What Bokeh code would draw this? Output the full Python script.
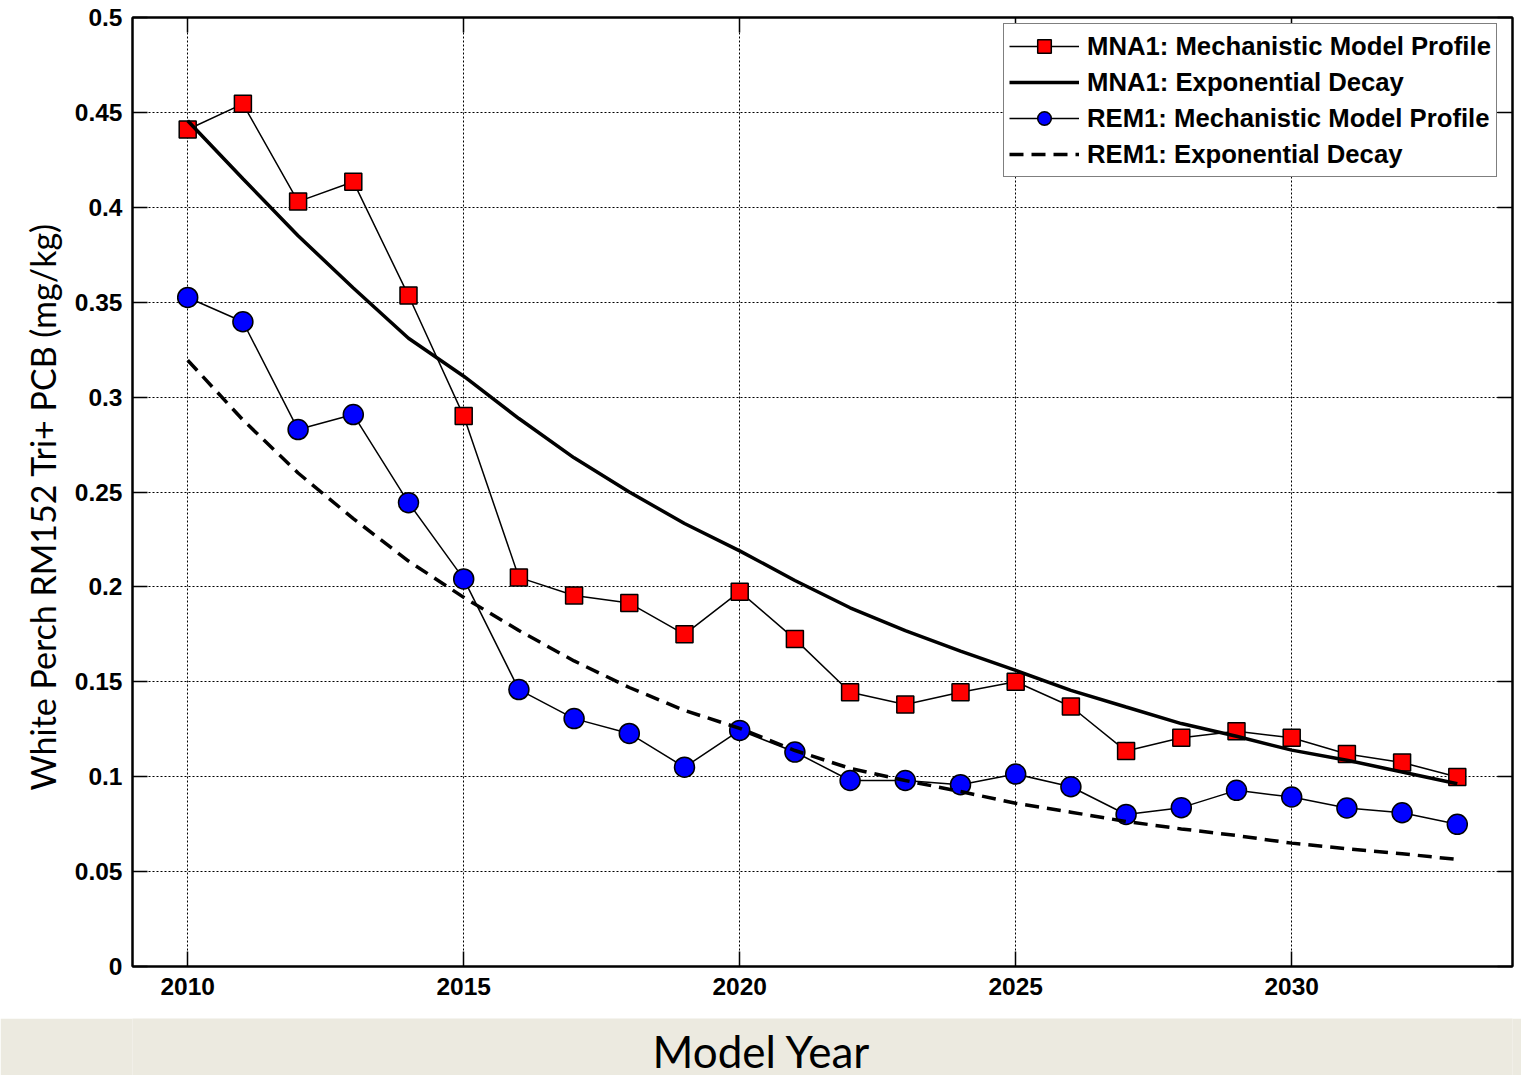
from bokeh.plotting import figure
from bokeh.models import Range1d, FixedTicker, LinearAxis, Legend, LegendItem, Title, Label
from bokeh.layouts import column
from bokeh.embed import file_html
from bokeh.resources import INLINE

years = list(range(2010, 2034))
mna1_profile = [0.441, 0.4545, 0.403, 0.4135, 0.3535, 0.290, 0.205, 0.1955, 0.1915, 0.175,
                0.1975, 0.1725, 0.1445, 0.138, 0.1445, 0.150, 0.137, 0.1135, 0.1205, 0.124,
                0.1205, 0.112, 0.1075, 0.0998]
mna1_exp = [0.4456, 0.415, 0.385, 0.3575, 0.331, 0.311, 0.2887, 0.268, 0.250, 0.2334,
            0.219, 0.2034, 0.189, 0.177, 0.1662, 0.156, 0.1455, 0.1367, 0.128, 0.1213,
            0.114, 0.1087, 0.1025, 0.0963]
rem1_profile = [0.3525, 0.3397, 0.2829, 0.2908, 0.2444, 0.2042, 0.1459, 0.1306, 0.1228, 0.105,
                0.1244, 0.113, 0.098, 0.098, 0.0958, 0.1014, 0.0947, 0.0801, 0.0837, 0.0928,
                0.0893, 0.0835, 0.081, 0.0749]
rem1_exp = [0.3194, 0.288, 0.260, 0.236, 0.2136, 0.1945, 0.177, 0.161, 0.147, 0.1349,
            0.1255, 0.1138, 0.1044, 0.098, 0.0922, 0.086, 0.0813, 0.0764, 0.0725, 0.069,
            0.065, 0.062, 0.0594, 0.0564]

x_ticks = [2010, 2015, 2020, 2025, 2030]
x_tick_labels = ["2010", "2015", "2020", "2025", "2030"]
y_ticks = [0, 0.05, 0.1, 0.15, 0.2, 0.25, 0.3, 0.35, 0.4, 0.45, 0.5]
y_tick_labels = ["0", "0.05", "0.1", "0.15", "0.2", "0.25", "0.3", "0.35", "0.4", "0.45", "0.5"]

series_labels = ["MNA1: Mechanistic Model Profile", "MNA1: Exponential Decay",
                 "REM1: Mechanistic Model Profile", "REM1: Exponential Decay"]
y_label = "White Perch RM152 Tri+ PCB (mg/kg)"
x_label = "Model Year"

BEIGE = "#ECEAE0"
TICK_FONT = "Liberation Sans"

p = figure(width=1521, height=1018, x_range=Range1d(2009, 2034), y_range=Range1d(0, 0.5),
           output_backend="svg", toolbar_location=None,
           min_border_left=132, min_border_right=9, min_border_top=17, min_border_bottom=52,
           background_fill_color="white", border_fill_color="white",
           outline_line_color="black", outline_line_width=2)


def style_axis(ax, ticks, labels, show_labels=True, standoff=10):
    ax.ticker = FixedTicker(ticks=ticks, minor_ticks=[])
    ax.major_label_overrides = dict(zip(ticks, labels))
    ax.major_tick_in = 15
    ax.major_tick_out = 0
    ax.minor_tick_in = 0
    ax.minor_tick_out = 0
    ax.major_tick_line_color = "black"
    ax.major_tick_line_width = 1.5
    ax.axis_line_color = "black"
    ax.axis_line_width = 2
    ax.major_label_text_font = TICK_FONT
    ax.major_label_text_font_style = "bold"
    ax.major_label_text_color = "black"
    if show_labels:
        ax.major_label_text_font_size = "24.5px"
        ax.major_label_standoff = standoff
    else:
        ax.major_label_text_font_size = "0px"
        ax.major_label_text_alpha = 0
        ax.major_label_standoff = 0


style_axis(p.xaxis[0], x_ticks, x_tick_labels, standoff=11)
style_axis(p.yaxis[0], y_ticks, y_tick_labels, standoff=10)
top_ax = LinearAxis()
style_axis(top_ax, x_ticks, x_tick_labels, show_labels=False)
right_ax = LinearAxis()
style_axis(right_ax, y_ticks, y_tick_labels, show_labels=False)
p.add_layout(top_ax, "above")
p.add_layout(right_ax, "right")

p.xgrid.ticker = FixedTicker(ticks=x_ticks)
p.ygrid.ticker = FixedTicker(ticks=y_ticks)
for g in (p.xgrid[0], p.ygrid[0]):
    g.grid_line_color = "black"
    g.grid_line_width = 1
    g.grid_line_dash = "2 2"

r1_line = p.line(years, mna1_profile, line_color="black", line_width=1.5)
r1_pts = p.scatter(years, mna1_profile, marker="square", size=17, fill_color="#FF0000",
                   line_color="black", line_width=1.5)
r2 = p.line(years, mna1_exp, line_color="black", line_width=3.5)
r3_line = p.line(years, rem1_profile, line_color="black", line_width=1.5)
r3_pts = p.scatter(years, rem1_profile, marker="circle", size=20, fill_color="#0000FF",
                   line_color="black", line_width=1.5)
r4 = p.line(years, rem1_exp, line_color="black", line_width=3.5, line_dash="14 8")

legend = Legend(items=[
    LegendItem(label=series_labels[0], renderers=[r1_line, r1_pts]),
    LegendItem(label=series_labels[1], renderers=[r2]),
    LegendItem(label=series_labels[2], renderers=[r3_line, r3_pts]),
    LegendItem(label=series_labels[3], renderers=[r4]),
], location=(871, 789))
legend.border_line_color = "black"
legend.border_line_width = 1.5
legend.background_fill_color = "white"
legend.background_fill_alpha = 1
legend.label_text_font = TICK_FONT
legend.label_text_font_style = "bold"
legend.label_text_font_size = "25.7px"
legend.label_text_color = "black"
legend.glyph_width = 70
legend.glyph_height = 34
legend.label_height = 34
legend.spacing = 2
legend.padding = 5
legend.margin = 0
legend.label_standoff = 8
p.add_layout(legend, "center")

ytitle = Title(text=y_label, align="left", offset=176, text_font="Lato",
               text_font_size="34px", text_font_style="normal", text_color="black",
               standoff=18)
p.add_layout(ytitle, "left")

x_label_pos = 2020.4
p2 = figure(width=1521, height=57, x_range=Range1d(2009, 2034), y_range=Range1d(0, 57),
            output_backend="svg", toolbar_location=None,
            min_border_left=132, min_border_right=9, min_border_top=0, min_border_bottom=0,
            background_fill_color=BEIGE, border_fill_color=BEIGE, outline_line_color=None)
p2.axis.visible = False
p2.grid.visible = False
p2.add_layout(Label(x=x_label_pos, y=25, text=x_label, text_font="Lato", text_font_size="44px",
                    text_align="center", text_baseline="alphabetic", text_color="black"))

layout = column(p, p2, spacing=0)

open("out.html", "w").write(file_html(layout, INLINE))
